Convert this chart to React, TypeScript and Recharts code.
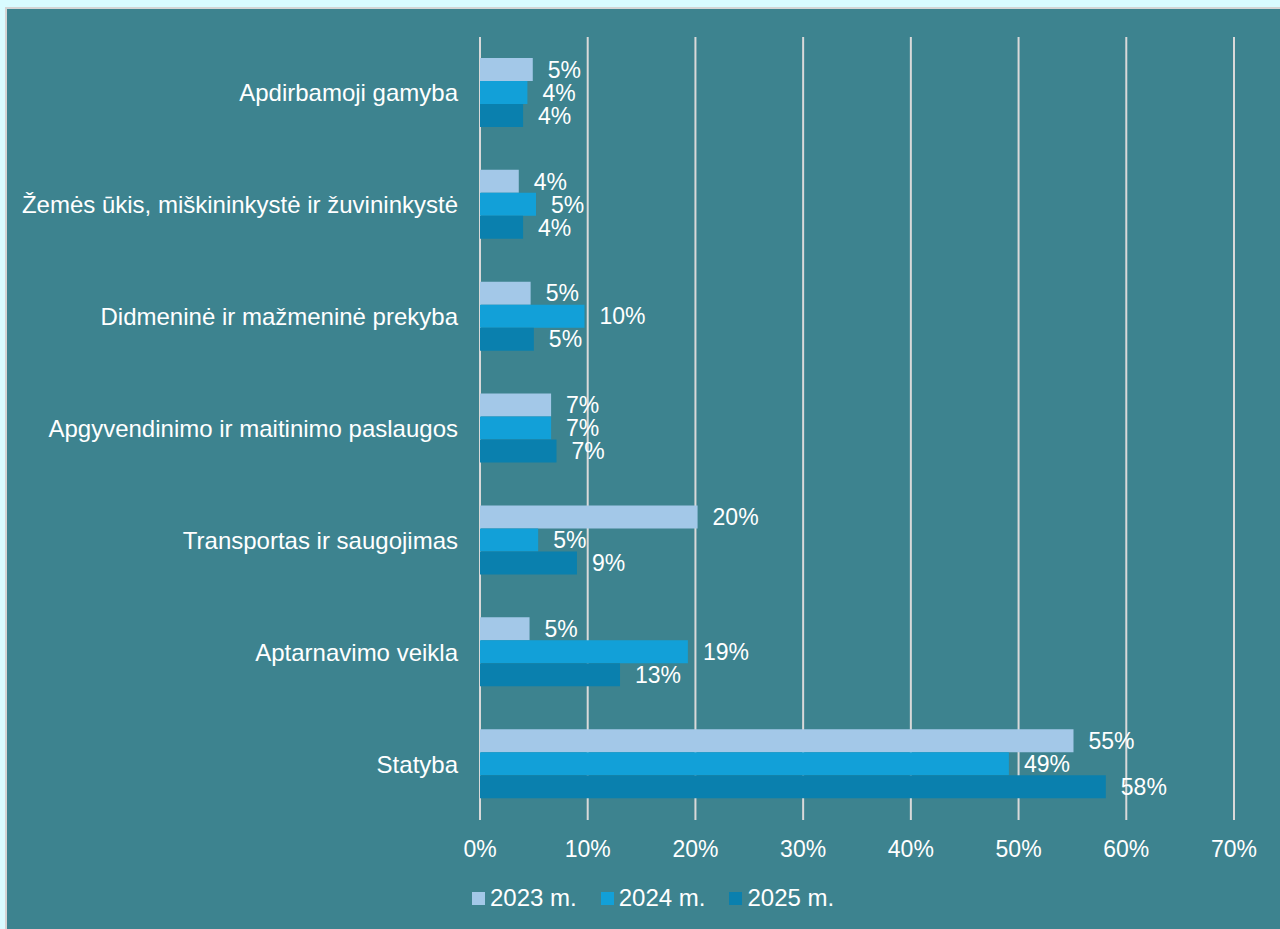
import {
  Bar,
  BarChart,
  CartesianGrid,
  LabelList,
  Legend,
  XAxis,
  YAxis,
} from "recharts";

const categories = [
  "Apdirbamoji gamyba",
  "Žemės ūkis, miškininkystė ir žuvininkystė",
  "Didmeninė ir mažmeninė prekyba",
  "Apgyvendinimo ir maitinimo paslaugos",
  "Transportas ir saugojimas",
  "Aptarnavimo veikla",
  "Statyba",
];
const v2023 = [4.9, 3.6, 4.7, 6.6, 20.2, 4.6, 55.1];
const v2024 = [4.4, 5.2, 9.7, 6.6, 5.4, 19.3, 49.1];
const v2025 = [4.0, 4.0, 5.0, 7.1, 9.0, 13.0, 58.1];
const xTicks = [0, 10, 20, 30, 40, 50, 60, 70];

const series = [
  { key: "y2023", name: "2023 m.", color: "#a3c8e8", values: v2023 },
  { key: "y2024", name: "2024 m.", color: "#12a0d8", values: v2024 },
  { key: "y2025", name: "2025 m.", color: "#0a80ae", values: v2025 },
];

const data = categories.map((name, i) => {
  const row: Record<string, any> = { name };
  series.forEach((s) => (row[s.key] = s.values[i]));
  return row;
});

const font = "'Liberation Sans', Arial, sans-serif";
const pct = (v: any) => `${Math.round(Number(v))}%`;

function LegendBox() {
  return (
    <div style={{ display: "flex", height: 26, alignItems: "center", marginLeft: 465 }}>
      {series.map((s) => (
        <div key={s.key} style={{ display: "flex", alignItems: "center", marginRight: 24 }}>
          <span style={{ width: 13, height: 13, background: s.color, marginRight: 5 }} />
          <span style={{ color: "#ffffff", fontSize: 24, fontFamily: font, lineHeight: "26px" }}>
            {s.name}
          </span>
        </div>
      ))}
    </div>
  );
}

export default function App() {
  return (
    <div style={{ position: "fixed", inset: 0, background: "#d9fbff", fontFamily: font }}>
      <div
        style={{
          position: "absolute",
          left: 5,
          top: 7,
          width: 1280,
          height: 930,
          background: "#3d838f",
          border: "2px solid #d4d4d4",
        }}
      >
        <BarChart
          width={1273}
          height={920}
          data={data}
          layout="vertical"
          barGap={0}
          barSize={23}
          margin={{ top: 28, right: 46, left: 20, bottom: 18 }}
        >
          <CartesianGrid horizontal={false} stroke="#d9d9d9" strokeWidth={2} />
          <XAxis
            type="number"
            domain={[0, 70]}
            ticks={xTicks}
            tickFormatter={(v) => `${v}%`}
            axisLine={false}
            tickLine={false}
            tickMargin={15}
            height={65}
            tick={{ fill: "#ffffff", fontSize: 23, fontFamily: font }}
          />
          <YAxis
            type="category"
            dataKey="name"
            width={453}
            axisLine={false}
            tickLine={false}
            tickMargin={16}
            tick={{ fill: "#ffffff", fontSize: 24, fontFamily: font }}
          />
          <Legend
            verticalAlign="bottom"
            content={() => <LegendBox />}
            wrapperStyle={{ left: 0, width: 1273 }}
          />
          {series.map((s) => (
            <Bar key={s.key} dataKey={s.key} name={s.name} fill={s.color} isAnimationActive={false}>
              <LabelList
                dataKey={s.key}
                position="right"
                offset={15}
                formatter={pct}
                fill="#ffffff"
                fontSize={23}
                fontFamily={font}
              />
            </Bar>
          ))}
        </BarChart>
      </div>
    </div>
  );
}
